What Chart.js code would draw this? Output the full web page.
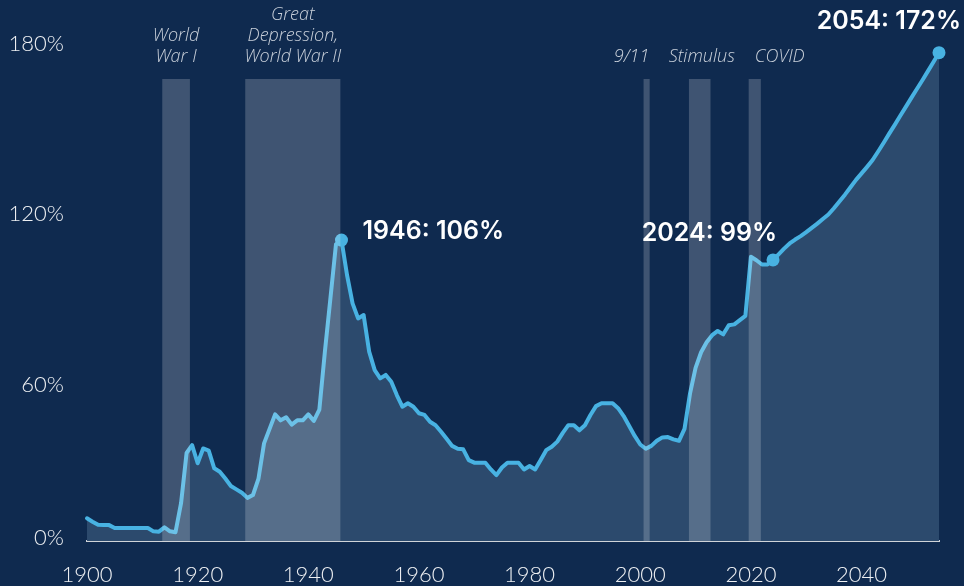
<!DOCTYPE html>
<html>
<head>
<meta charset="utf-8">
<script src="https://cdn.jsdelivr.net/npm/chart.js@4"></script>
<style>
  html, body { margin:0; padding:0; background:#0f2a4f; }
  canvas { display:block; }
</style>
</head>
<body>
<canvas id="chart" width="964" height="586"></canvas>
<script>
// ---------- data ----------
const FIRST_YEAR = 1900;
const DEBT_HIST = [ // debt held by the public, % of GDP, 1900-2024
  8.0, 6.8, 5.7, 5.6, 5.6, 4.6, 4.6, 4.6, 4.6, 4.6,
  4.6, 4.6, 3.4, 3.3, 4.8, 3.4, 3.1, 13.3, 31.0, 33.8,
  27.4, 32.6, 31.8, 25.6, 24.4, 22.0, 19.4, 18.2, 17.0, 15.2,
  16.2, 22.0, 34.4, 39.5, 44.6, 42.5, 43.6, 41.0, 42.5, 42.5,
  44.6, 42.3, 46.3, 66.7, 85.5, 104.5, 106.0, 93.7, 83.7, 78.4,
  79.6, 66.7, 60.2, 57.3, 58.5, 56.1, 51.4, 47.3, 48.5, 47.3,
  45.0, 44.4, 42.0, 40.8, 38.5, 36.0, 33.5, 32.5, 32.3, 28.5,
  27.6, 27.6, 27.6, 25.2, 23.2, 25.9, 27.6, 27.6, 27.6, 25.2,
  26.4, 25.2, 28.5, 32.0, 33.2, 35.0, 38.1, 40.8, 40.8, 39.0,
  40.8, 44.4, 47.5, 48.5, 48.5, 48.5, 46.8, 44.0, 40.5, 37.0,
  34.0, 32.5, 33.5, 35.3, 36.5, 36.6, 35.8, 35.3, 39.5, 52.0,
  61.0, 66.5, 70.0, 72.5, 74.0, 72.8, 76.0, 76.3, 77.8, 79.3,
  100.1, 98.9, 97.4, 97.4, 99.0
];
const DEBT_PROJ = [ // projection 2025-2054
  101.0, 103.0, 104.8, 106.2, 107.4, 108.8, 110.3, 111.8, 113.4, 115.0,
  117.2, 119.6, 122.0, 124.6, 127.2, 129.5, 131.8, 134.2, 137.2, 140.3,
  143.5, 146.6, 149.8, 152.9, 156.1, 159.2, 162.3, 165.5, 168.7, 172.0
];
const DEBT = DEBT_HIST.concat(DEBT_PROJ);
const YEARS = DEBT.map((_, i) => FIRST_YEAR + i);

const X_TICKS = [1900, 1920, 1940, 1960, 1980, 2000, 2020, 2040];
const Y_TICKS = [0, 60, 120, 180];
const HIGHLIGHT_YEARS = [1946, 2024, 2054];

const EVENT_LABELS = [['World', 'War I'], ['Great', 'Depression,', 'World War II'], ['9/11'], ['Stimulus'], ['COVID']];
const EVENT_START  = [1913.6, 1928.6, 2000.6, 2008.8, 2019.6];
const EVENT_END    = [1918.6, 1945.8, 2001.7, 2012.7, 2021.8];

// ---------- look ----------
const LINE = '#48b2e2';
const AREA = '#2c4a6d';
const BAND_TOP = 79;
const EVENT_SHIFT = [0, 0, -15, 2, 25];          // px nudges for event captions
const CALLOUT = {                               // [dx, dy, align]
  1946: [21, -9, 'left'],
  2024: [4, -26, 'right'],
  2054: [22, -31, 'right']
};

const overlay = {
  id: 'overlay',
  afterDatasetsDraw(chart) {
    const {ctx, chartArea, scales:{x, y}} = chart;
    ctx.save();

    // shaded event bands on top of line + area
    ctx.fillStyle = 'rgba(255,255,255,0.2)';
    EVENT_START.forEach((s, i) => {
      const x0 = x.getPixelForValue(s), x1 = x.getPixelForValue(EVENT_END[i]);
      ctx.fillRect(x0, BAND_TOP, x1 - x0, chartArea.bottom - BAND_TOP);
    });

    // event captions
    ctx.font = 'italic 300 18px "Open Sans"';
    ctx.fillStyle = '#c9d0da';
    ctx.textAlign = 'center';
    ctx.textBaseline = 'middle';
    EVENT_LABELS.forEach((lines, i) => {
      const cx = (x.getPixelForValue(EVENT_START[i]) + x.getPixelForValue(EVENT_END[i])) / 2 + EVENT_SHIFT[i];
      lines.forEach((t, j) => ctx.fillText(t, cx, 57 - (lines.length - 1 - j) * 21));
    });

    // y tick labels
    ctx.font = '300 22px Lato';
    ctx.fillStyle = '#eef0f3';
    ctx.textAlign = 'right';
    Y_TICKS.forEach(v => {
      const py = y.getPixelForValue(v) + (v === 0 ? -3 : 14);
      ctx.fillText(v + '%', 64, py);
    });

    // callouts
    const pts = chart.getDatasetMeta(0).data;
    ctx.font = '600 25px Inter';
    ctx.fillStyle = '#ffffff';
    HIGHLIGHT_YEARS.forEach(yr => {
      const i = YEARS.indexOf(yr);
      const p = pts[i];
      const [dx, dy, align] = CALLOUT[yr];
      ctx.textAlign = align;
      ctx.fillText(yr + ': ' + Math.round(DEBT[i]) + '%', p.x + dx, p.y + dy);
    });
    ctx.restore();
  }
};

new Chart(document.getElementById('chart'), {
  type: 'line',
  data: {
    datasets: [{
      data: YEARS.map((yr, i) => ({x: yr, y: DEBT[i]})),
      borderColor: LINE,
      borderWidth: 4,
      borderJoinStyle: 'round',
      borderCapStyle: 'round',
      backgroundColor: AREA,
      fill: 'origin',
      tension: 0,
      clip: false,
      pointRadius: ctx => HIGHLIGHT_YEARS.includes(YEARS[ctx.dataIndex]) ? 6.5 : 0,
      pointHoverRadius: 0,
      pointBorderWidth: 0,
      pointBackgroundColor: LINE
    }]
  },
  options: {
    responsive: false,
    animation: false,
    events: [],
    layout: { padding: { left: 87, right: 25, top: 30, bottom: 0 } },
    plugins: { legend: { display: false }, tooltip: { enabled: false } },
    scales: {
      x: {
        type: 'linear',
        min: 1900, max: 2054,
        afterBuildTicks: s => { s.ticks = X_TICKS.map(v => ({value: v})); },
        afterFit: s => { s.height = 45; },
        ticks: {
          color: '#eef0f3',
          font: { family: 'Lato', size: 22, weight: 300, lineHeight: 1 },
          padding: 23,
          maxRotation: 0,
          autoSkip: false,
          callback: v => String(v)
        },
        grid: { display: false, drawTicks: false },
        border: { display: true, color: '#cfd3d8', width: 2 }
      },
      y: { min: 0, max: 180, display: false }
    }
  },
  plugins: [overlay]
});
</script>
</body>
</html>
